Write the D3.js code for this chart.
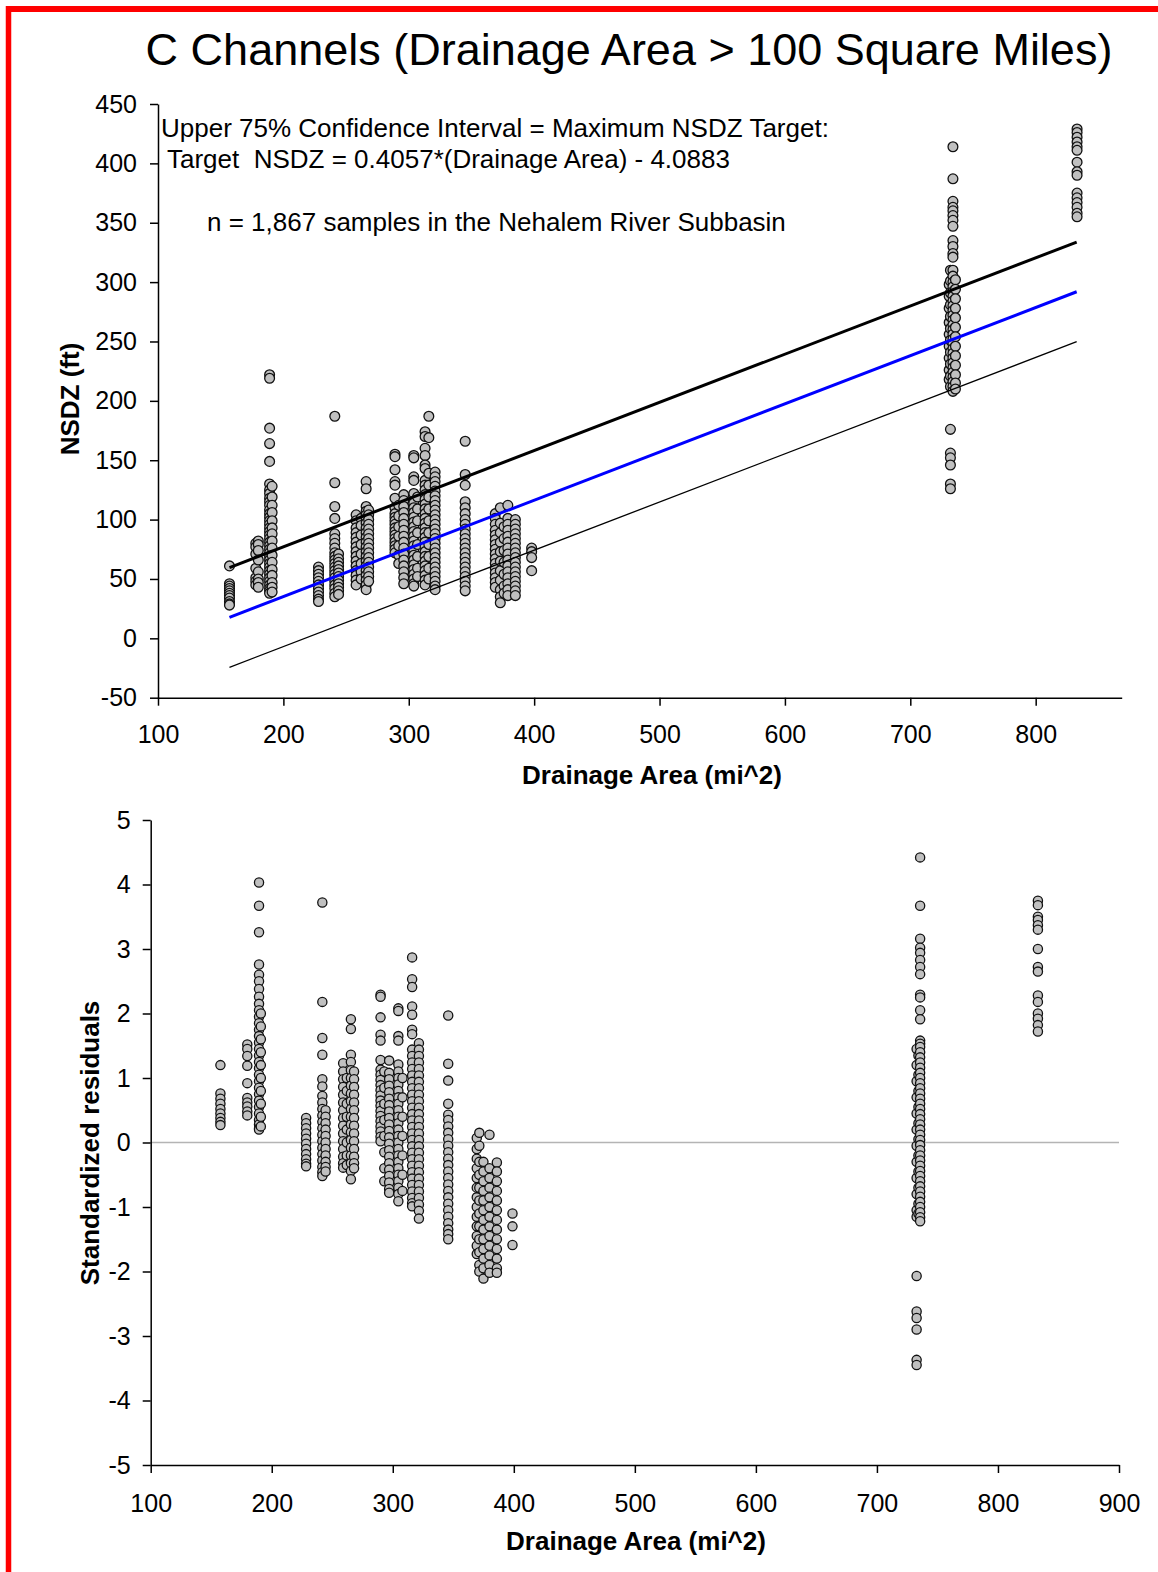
<!DOCTYPE html>
<html><head><meta charset="utf-8">
<script src="https://cdn.jsdelivr.net/npm/d3@7"></script>
<style>
body{margin:0;background:#fff}
svg{display:block}
text{font-family:"Liberation Sans",Arial,Helvetica,sans-serif;fill:#000}
</style>
</head><body>
<svg id="chart" width="1158" height="1572"></svg>
<script>
// ---------------- DATA ----------------
const titleText = "C Channels (Drainage Area > 100 Square Miles)";
const noteLines = [
  "Upper 75% Confidence Interval = Maximum NSDZ Target:",
  "Target  NSDZ = 0.4057*(Drainage Area) - 4.0883",
  "n = 1,867 samples in the Nehalem River Subbasin"
];
const topXLabel = "Drainage Area (mi^2)";
const topYLabel = "NSDZ (ft)";
const botXLabel = "Drainage Area (mi^2)";
const botYLabel = "Standardized residuals";

const topXTicks = [100, 200, 300, 400, 500, 600, 700, 800];
const topYTicks = [-50, 0, 50, 100, 150, 200, 250, 300, 350, 400, 450];
const botXTicks = [100, 200, 300, 400, 500, 600, 700, 800, 900];
const botYTicks = [-5, -4, -3, -2, -1, 0, 1, 2, 3, 4, 5];

// Top panel: drainage area of each sampled reach group and the NSDZ values observed there
const topAreas = [157, 178, 180, 189, 191, 228, 241, 244, 258, 262, 266, 268, 289, 292, 296, 304, 307, 313, 316, 321, 345, 369, 373, 376, 379, 385, 398, 731, 732, 734, 736, 833];
const topNSDZ = [
  [61, 46, 44, 42, 40, 38, 36, 34, 31, 29, 28],
  [80, 77, 71, 59, 51, 48, 45],
  [82, 79, 74, 66, 56, 50, 47, 43],
  [222, 219, 177, 164, 149, 130, 125, 122, 118, 115, 112, 108, 105, 102, 99, 96, 93, 90, 87, 84, 81, 78, 75, 72, 69, 66, 63, 60, 57, 54, 51, 48, 45, 42, 40, 38],
  [128, 119, 112, 106, 99, 93, 88, 82, 76, 70, 64, 58, 53, 47, 43, 39],
  [60, 57, 54, 51, 48, 45, 42, 39, 36, 33, 31],
  [187, 131, 111, 101, 88, 84, 80, 76, 72, 69, 66, 63, 60, 57, 54, 51, 48, 45, 42, 38, 35],
  [71, 67, 64, 61, 58, 55, 52, 49, 46, 43, 40, 37],
  [104, 99, 93, 89, 85, 81, 77, 73, 69, 65, 61, 57, 53, 49, 45],
  [101, 95, 87, 79, 71, 63, 56, 50],
  [132, 126, 111, 107, 104, 101, 97, 93, 89, 85, 81, 77, 73, 69, 65, 61, 57, 53, 49, 45, 41],
  [108, 104, 100, 96, 92, 88, 84, 80, 76, 72, 68, 64, 60, 56, 52, 48],
  [155, 153, 142, 132, 129, 118, 110, 105, 102, 99, 96, 93, 90, 87, 84, 81, 78, 75, 72],
  [112, 103, 94, 86, 78, 70, 63],
  [121, 116, 111, 106, 101, 96, 91, 86, 81, 76, 71, 66, 61, 56, 51, 46],
  [154, 152, 136, 133, 122, 114, 110, 106, 102, 98, 94, 90, 86, 82, 78, 74, 70, 66, 62, 58, 54, 50, 46, 44],
  [119, 109, 99, 89, 79, 69, 59, 52],
  [174, 170, 160, 154, 146, 143, 133, 129, 125, 121, 117, 113, 109, 105, 101, 97, 93, 89, 85, 81, 77, 73, 69, 65, 61, 57, 53, 49, 45],
  [187, 169, 139, 129, 119, 109, 99, 89, 79, 69, 59, 50],
  [140, 136, 132, 128, 124, 120, 116, 112, 108, 104, 100, 96, 92, 88, 84, 80, 76, 72, 68, 64, 60, 56, 52, 48, 44, 41],
  [166, 138, 129, 115, 110, 105, 100, 96, 92, 88, 84, 80, 76, 72, 68, 64, 60, 56, 52, 48, 44, 40],
  [105, 101, 96, 91, 87, 83, 79, 75, 71, 67, 63, 59, 55, 51, 47, 43],
  [110, 97, 89, 81, 73, 65, 57, 49, 41, 35, 30],
  [94, 84, 74, 64, 54, 44, 38],
  [112, 101, 96, 91, 86, 81, 76, 71, 66, 61, 56, 51, 46, 41, 36],
  [100, 96, 92, 88, 84, 80, 76, 72, 68, 64, 60, 56, 52, 48, 44, 40, 36],
  [76, 73, 68, 57],
  [298, 288, 278, 266, 256, 246, 236, 226, 218],
  [310, 301, 291, 281, 271, 261, 251, 241, 231, 221, 212, 176, 156, 152, 146, 130, 126],
  [414, 387, 368, 363, 360, 356, 352, 347, 335, 330, 324, 321, 310, 305, 300, 296, 292, 288, 284, 280, 276, 272, 268, 264, 260, 256, 252, 248, 244, 240, 236, 232, 228, 224, 220, 216, 212, 208],
  [302, 294, 286, 278, 270, 262, 254, 246, 238, 230, 222, 215, 210],
  [429, 426, 422, 418, 414, 411, 401, 393, 390, 375, 371, 367, 363, 358, 355]
];

// Fitted lines (end points)
const lineAreas = [157, 832.7];
const upperCI = [59.6, 333.7];
const fitLine = [17.7, 291.9];
const lowerCI = [-24.4, 249.8];

// Bottom panel: standardized residuals
const botAreas = [157.6, 179.8, 189.5, 191, 228.4, 241.8, 244.5, 259, 262, 265.4, 268, 289.9, 293, 297, 304.6, 308, 316, 321.6, 345.8, 369.4, 371.5, 374.9, 379.9, 386, 398.9, 732.8, 734.3, 735.7, 833];
const botResid = [
  [1.2, 0.76, 0.68, 0.6, 0.52, 0.45, 0.38, 0.32, 0.27],
  [1.52, 1.45, 1.34, 1.19, 0.92, 0.69, 0.62, 0.56, 0.48, 0.42],
  [4.03, 3.67, 3.26, 2.76, 2.6, 2.5, 2.38, 2.26, 2.15, 2.05, 1.95, 1.85, 1.75, 1.65, 1.55, 1.45, 1.35, 1.25, 1.15, 1.05, 0.95, 0.85, 0.75, 0.65, 0.55, 0.45, 0.35, 0.28, 0.22, 0.2],
  [2.0, 1.8, 1.6, 1.4, 1.2, 1.0, 0.8, 0.6, 0.4, 0.25],
  [0.38, 0.3, 0.22, 0.14, 0.06, -0.02, -0.1, -0.18, -0.26, -0.33, -0.37],
  [3.72, 2.18, 1.62, 1.36, 0.98, 0.87, 0.72, 0.62, 0.52, 0.42, 0.32, 0.22, 0.12, 0.02, -0.08, -0.18, -0.28, -0.38, -0.46, -0.52],
  [0.5, 0.4, 0.3, 0.2, 0.1, 0.0, -0.1, -0.2, -0.3, -0.38, -0.45],
  [1.23, 1.1, 0.98, 0.86, 0.74, 0.62, 0.5, 0.38, 0.26, 0.14, 0.02, -0.1, -0.22, -0.32, -0.39],
  [1.0, 0.8, 0.6, 0.4, 0.2, 0.0, -0.2, -0.35],
  [1.91, 1.76, 1.36, 1.25, 1.12, 1.0, 0.88, 0.76, 0.64, 0.52, 0.4, 0.28, 0.16, 0.04, -0.08, -0.2, -0.32, -0.44, -0.57],
  [1.1, 0.98, 0.86, 0.74, 0.62, 0.5, 0.38, 0.26, 0.14, 0.02, -0.1, -0.22, -0.32, -0.4],
  [2.29, 2.26, 1.94, 1.67, 1.58, 1.28, 1.13, 1.05, 0.97, 0.89, 0.81, 0.73, 0.65, 0.57, 0.49, 0.41, 0.33, 0.25, 0.17, 0.09, 0.02],
  [1.1, 0.85, 0.6, 0.35, 0.1, -0.15, -0.4, -0.6],
  [1.27, 1.08, 0.98, 0.88, 0.78, 0.68, 0.58, 0.48, 0.38, 0.28, 0.18, 0.08, -0.02, -0.12, -0.22, -0.32, -0.42, -0.52, -0.62, -0.72, -0.78],
  [2.08, 2.04, 1.65, 1.58, 1.21, 1.1, 1.0, 0.9, 0.8, 0.7, 0.6, 0.5, 0.4, 0.3, 0.2, 0.1, 0.0, -0.1, -0.2, -0.3, -0.4, -0.5, -0.6, -0.7, -0.8, -0.91],
  [1.0, 0.7, 0.4, 0.1, -0.2, -0.5, -0.75],
  [2.87, 2.53, 2.41, 2.11, 1.98, 1.75, 1.68, 1.44, 1.34, 1.24, 1.14, 1.04, 0.94, 0.84, 0.74, 0.64, 0.54, 0.44, 0.34, 0.24, 0.14, 0.04, -0.06, -0.16, -0.26, -0.36, -0.46, -0.56, -0.66, -0.76, -0.86, -0.94, -0.99],
  [1.54, 1.44, 1.34, 1.24, 1.14, 1.04, 0.94, 0.84, 0.74, 0.64, 0.54, 0.44, 0.34, 0.24, 0.14, 0.04, -0.06, -0.16, -0.26, -0.36, -0.46, -0.56, -0.66, -0.76, -0.86, -0.96, -1.06, -1.18],
  [1.97, 1.22, 0.96, 0.6, 0.43, 0.35, 0.25, 0.15, 0.05, -0.05, -0.15, -0.25, -0.35, -0.45, -0.55, -0.65, -0.75, -0.85, -0.95, -1.05, -1.15, -1.25, -1.35, -1.42, -1.5],
  [0.07, -0.1, -0.25, -0.4, -0.55, -0.7, -0.85, -1.0, -1.15, -1.3, -1.45, -1.6, -1.73],
  [0.15, -0.05, -0.3, -0.5, -0.7, -0.9, -1.1, -1.3, -1.5, -1.7, -1.9, -2.0],
  [-0.3, -0.45, -0.6, -0.75, -0.9, -1.05, -1.2, -1.35, -1.5, -1.65, -1.8, -1.95, -2.11],
  [0.12, -0.4, -0.55, -0.7, -0.85, -1.0, -1.15, -1.3, -1.45, -1.6, -1.75, -1.9, -2.02],
  [-0.31, -0.45, -0.6, -0.75, -0.9, -1.05, -1.2, -1.35, -1.5, -1.65, -1.8, -1.95, -2.02],
  [-1.1, -1.3, -1.59],
  [1.45, 1.2, 0.95, 0.7, 0.45, 0.2, -0.05, -0.3, -0.55, -0.8, -1.05, -1.15, -2.07, -2.62, -2.72, -2.9, -3.37, -3.45],
  [1.35, 1.05, 0.8, 0.55, 0.3, 0.05, -0.2, -0.45, -0.7, -0.95, -1.1],
  [4.42, 3.67, 3.16, 3.02, 2.94, 2.83, 2.72, 2.61, 2.29, 2.25, 2.05, 1.91, 1.58, 1.53, 1.48, 1.4, 1.32, 1.24, 1.16, 1.08, 1.0, 0.92, 0.84, 0.76, 0.68, 0.6, 0.52, 0.44, 0.36, 0.28, 0.2, 0.12, 0.04, -0.04, -0.12, -0.2, -0.28, -0.36, -0.44, -0.52, -0.6, -0.68, -0.76, -0.84, -0.92, -1.0, -1.08, -1.16, -1.22],
  [3.75, 3.68, 3.5, 3.45, 3.37, 3.3, 3.0, 2.72, 2.65, 2.28, 2.18, 2.0, 1.92, 1.82, 1.72]
];

// ---------------- DRAWING ----------------
const svg = d3.select("#chart");
const FONT = '"Liberation Sans", Arial, Helvetica, sans-serif';

// red frame (left and top edges visible)
svg.append("line").attr("x1", 8.5).attr("x2", 8.5).attr("y1", 6).attr("y2", 1572)
  .attr("stroke", "#ff0000").attr("stroke-width", 5.5);
svg.append("line").attr("x1", 6).attr("x2", 1158).attr("y1", 9).attr("y2", 9)
  .attr("stroke", "#ff0000").attr("stroke-width", 6);

// title
svg.append("text").attr("x", 629).attr("y", 65).attr("text-anchor", "middle")
  .attr("font-size", 45).text(titleText);

function styleAxis(g, size) {
  g.attr("font-family", FONT).attr("font-size", size);
  g.select(".domain").attr("stroke", "#000").attr("stroke-width", 1.5);
  g.selectAll(".tick line").attr("stroke", "#000").attr("stroke-width", 1.5);
  g.selectAll(".tick text").attr("fill", "#000");
}

// ---- top panel ----
const xTop = d3.scaleLinear().domain([100, 868.6]).range([158, 1121.7]);
const yTop = d3.scaleLinear().domain([-50, 450]).range([697.7, 104]);

const topPts = topAreas.flatMap((a, i) => topNSDZ[i].map(v => ({a, v})));
svg.append("g").selectAll("circle").data(topPts).join("circle")
  .attr("cx", d => xTop(d.a)).attr("cy", d => yTop(d.v)).attr("r", 4.9)
  .attr("fill", "#c0c0c0").attr("stroke", "#111").attr("stroke-width", 1.3);

const lineGen = d3.line().x(d => xTop(d[0])).y(d => yTop(d[1]));
const mkLine = arr => lineAreas.map((a, i) => [a, arr[i]]);
svg.append("path").attr("d", lineGen(mkLine(lowerCI))).attr("fill", "none")
  .attr("stroke", "#000").attr("stroke-width", 1.3);
svg.append("path").attr("d", lineGen(mkLine(fitLine))).attr("fill", "none")
  .attr("stroke", "#0000ff").attr("stroke-width", 3);
svg.append("path").attr("d", lineGen(mkLine(upperCI))).attr("fill", "none")
  .attr("stroke", "#000").attr("stroke-width", 3);

const gxTop = svg.append("g").attr("transform", "translate(0,697.7)")
  .call(d3.axisBottom(xTop).tickValues(topXTicks).tickSize(8).tickSizeOuter(0).tickPadding(20).tickFormat(d => String(d)));
styleAxis(gxTop, 25);
const gyTop = svg.append("g").attr("transform", "translate(158,0)")
  .call(d3.axisLeft(yTop).tickValues(topYTicks).tickSize(8).tickSizeOuter(0).tickPadding(13).tickFormat(d => String(d)));
styleAxis(gyTop, 25);

svg.append("text").attr("x", 652).attr("y", 784).attr("text-anchor", "middle")
  .attr("font-size", 26).attr("font-weight", "bold").text(topXLabel);
svg.append("text").attr("transform", "translate(79,399) rotate(-90)").attr("text-anchor", "middle")
  .attr("font-size", 26).attr("font-weight", "bold").text(topYLabel);

const notePos = [[161, 137], [167, 168], [207, 231]];
noteLines.forEach((t, i) => {
  svg.append("text").attr("x", notePos[i][0]).attr("y", notePos[i][1])
    .attr("font-size", 26).style("white-space", "pre").text(t);
});

// ---- bottom panel ----
const xBot = d3.scaleLinear().domain([100, 900]).range([150.7, 1119]);
const yBot = d3.scaleLinear().domain([-5, 5]).range([1465, 820]);

svg.append("line").attr("x1", xBot(100)).attr("x2", xBot(900))
  .attr("y1", yBot(0)).attr("y2", yBot(0)).attr("stroke", "#b4b4b4").attr("stroke-width", 1.5);

const botPts = botAreas.flatMap((a, i) => botResid[i].map(v => ({a, v})));
svg.append("g").selectAll("circle").data(botPts).join("circle")
  .attr("cx", d => xBot(d.a)).attr("cy", d => yBot(d.v)).attr("r", 4.6)
  .attr("fill", "#c0c0c0").attr("stroke", "#111").attr("stroke-width", 1.3);

const gxBot = svg.append("g").attr("transform", "translate(0,1465)")
  .call(d3.axisBottom(xBot).tickValues(botXTicks).tickSize(8).tickSizeOuter(0).tickPadding(21).tickFormat(d => String(d)));
styleAxis(gxBot, 25);
const gyBot = svg.append("g").attr("transform", "translate(150.7,0)")
  .call(d3.axisLeft(yBot).tickValues(botYTicks).tickSize(8).tickSizeOuter(0).tickPadding(12).tickFormat(d => String(d)));
styleAxis(gyBot, 25);

svg.append("text").attr("x", 636).attr("y", 1550).attr("text-anchor", "middle")
  .attr("font-size", 26).attr("font-weight", "bold").text(botXLabel);
svg.append("text").attr("transform", "translate(99,1143) rotate(-90)").attr("text-anchor", "middle")
  .attr("font-size", 26).attr("font-weight", "bold").text(botYLabel);
</script>
</body></html>
